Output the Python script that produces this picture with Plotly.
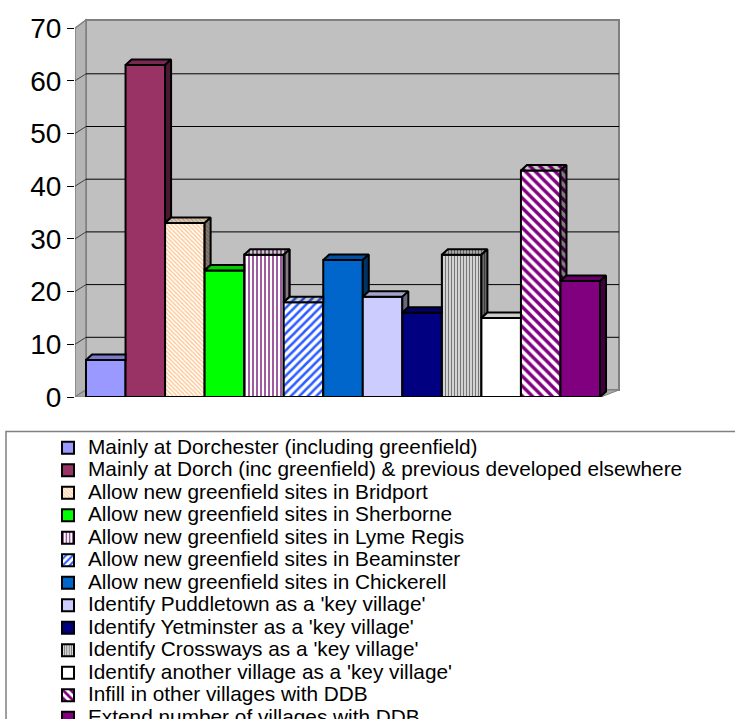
import plotly.graph_objects as go

# ---------------- data ----------------
labels = [
    "Mainly at Dorchester (including greenfield)",
    "Mainly at Dorch (inc greenfield) & previous developed elsewhere",
    "Allow new greenfield sites in Bridport",
    "Allow new greenfield sites in Sherborne",
    "Allow new greenfield sites in Lyme Regis",
    "Allow new greenfield sites in Beaminster",
    "Allow new greenfield sites in Chickerell",
    "Identify Puddletown as a 'key village'",
    "Identify Yetminster as a 'key village'",
    "Identify Crossways as a 'key village'",
    "Identify another village as a 'key village'",
    "Infill in other villages with DDB",
    "Extend number of villages with DDB",
]
values = [7, 63, 33, 24, 27, 18, 26, 19, 16, 27, 15, 43, 22]
y_ticks = [0, 10, 20, 30, 40, 50, 60, 70]

# ---------------- styles ----------------
face_colors = ["#9999FF", "#993366", "#FFFFFF", "#00FF00", "#FFFFFF", "#FFFFFF",
               "#0066CC", "#CCCCFF", "#000080", "#FFFFFF", "#FFFFFF", "#FFFFFF", "#800080"]
# (shape, fgcolor, size, solidity) or None
patterns = [None, None, ("\\", "#FFC58E", 3, 0.45), None, ("|", "#660066", 4, 0.32),
            ("/", "#2E5CFF", 6, 0.42), None, None, None, ("|", "#777777", 3, 0.55),
            None, ("\\", "#800080", 7, 0.48), None]

FONT = "Liberation Sans, Arial, sans-serif"
LEGEND_TEXT_PX = 20.8

# ---------------- geometry (pixels) ----------------
W, H = 735, 719
PLOT_L, PLOT_R, PLOT_T, PLOT_B = 75, 622, 18, 397
BAR0_PX = 86          # left edge of first bar
BAR_W_PX = 39.54      # bar width in px
PX_PER_UNIT = 5.27    # px per value unit
BACK_RIGHT_PX = 619
BACK_TOP_PX = 20
WALL_DY_PX = 7        # depth of walls (vertical)
BAR_DX_PX, BAR_DY_PX = 6.0, 5.5  # depth of bars


def px2x(px):
    return (px - BAR0_PX) / BAR_W_PX


def py2y(py):
    return (PLOT_B - py) / PX_PER_UNIT


x_range = [px2x(PLOT_L), px2x(PLOT_R)]
y_range = [0, py2y(PLOT_T)]
dxb = BAR_DX_PX / BAR_W_PX
dyb = BAR_DY_PX / PX_PER_UNIT
wall_dy = WALL_DY_PX / PX_PER_UNIT
back_x1 = px2x(BACK_RIGHT_PX)
back_y1 = py2y(BACK_TOP_PX)
floor_front_x1 = len(values) + 0.02
left_x = x_range[0]


def darken(hex_color, f):
    h = hex_color.lstrip("#")
    r, g, b = (int(h[i:i + 2], 16) for i in (0, 2, 4))
    return "#%02X%02X%02X" % (int(r * f), int(g * f), int(b * f))


fig = go.Figure()

# front faces (real bars, also used for legend)
for i, (lab, v) in enumerate(zip(labels, values)):
    pat = patterns[i]
    marker = dict(color=face_colors[i], line=dict(color="black", width=2))
    if pat:
        marker["pattern"] = dict(shape=pat[0], fgcolor=pat[1], bgcolor=face_colors[i],
                                 size=pat[2], solidity=pat[3], fgopacity=1, fillmode="replace")
    fig.add_trace(go.Bar(
        x=[i + 0.5], y=[v], width=1, marker=marker,
        name="<span style='font-size:%.1fpx'>%s</span>" % (LEGEND_TEXT_PX, lab),
        showlegend=True, hoverinfo="skip",
    ))

# 3D top and side faces
for i, v in enumerate(values):
    x0, x1 = i, i + 1
    nv = values[i + 1] if i + 1 < len(values) else 0
    pat = patterns[i]
    for kind, f in (("top", 0.8), ("side", 0.5)):
        if kind == "top":
            if nv > v:
                xs = [x0, x0 + dxb, x1, x1, x0]
                ys = [v, v + dyb, v + dyb, v, v]
            else:
                xs = [x0, x0 + dxb, x1 + dxb, x1, x0]
                ys = [v, v + dyb, v + dyb, v, v]
        else:
            if nv >= v:
                continue
            xs = [x1, x1, x1 + dxb, x1 + dxb, x1]
            ys = [nv, v, v + dyb, nv + dyb, nv]
        col = darken(face_colors[i], f)
        kw = dict(fillcolor=col)
        if pat:
            kw["fillpattern"] = dict(shape=pat[0], fgcolor=darken(pat[1], f), bgcolor=col,
                                     size=pat[2], solidity=pat[3], fgopacity=1)
        fig.add_trace(go.Scatter(
            x=xs, y=ys, mode="lines", fill="toself",
            line=dict(color="black", width=2), showlegend=False, hoverinfo="skip", **kw
        ))

shapes = []
# back wall
shapes.append(dict(type="rect", xref="x", yref="y", x0=0, x1=back_x1, y0=wall_dy, y1=back_y1,
                   fillcolor="#C0C0C0", line=dict(color="#808080", width=2), layer="below"))
# left wall
shapes.append(dict(type="path", xref="x", yref="y",
                   path="M %f,%f L %f,%f L %f,%f L %f,%f Z" % (left_x, 0, left_x, 70, 0, back_y1, 0, wall_dy),
                   fillcolor="#B4B4B4", line=dict(color="#808080", width=1.5), layer="below"))
# floor
shapes.append(dict(type="path", xref="x", yref="y",
                   path="M %f,%f L %f,%f L %f,%f L %f,%f Z" % (left_x, 0, floor_front_x1, 0, back_x1, wall_dy, 0, wall_dy),
                   fillcolor="#A8A8A8", line=dict(color="#808080", width=1), layer="below"))
# gridlines
for t in y_ticks[1:-1]:
    shapes.append(dict(type="line", xref="x", yref="y", x0=0, x1=back_x1, y0=t + wall_dy, y1=t + wall_dy,
                       line=dict(color="black", width=1), layer="below"))
    shapes.append(dict(type="line", xref="x", yref="y", x0=left_x, x1=0, y0=t, y1=t + wall_dy,
                       line=dict(color="#404040", width=1), layer="below"))


# legend frame
def pxp(px):
    return (px - PLOT_L) / (PLOT_R - PLOT_L)


def pyp(py):
    return (PLOT_B - py) / (PLOT_B - PLOT_T)


shapes.append(dict(type="rect", xref="paper", yref="paper", x0=pxp(6), x1=pxp(780), y0=pyp(431.5), y1=pyp(780),
                   fillcolor="rgba(0,0,0,0)", line=dict(color="#808080", width=1.5), layer="above"))

fig.update_layout(
    width=W, height=H,
    margin=dict(l=PLOT_L, r=W - PLOT_R, t=PLOT_T, b=H - PLOT_B, autoexpand=False),
    paper_bgcolor="white", plot_bgcolor="white",
    barmode="overlay",
    shapes=shapes,
    showlegend=True,
    legend=dict(x=pxp(48), y=pyp(431.5), xanchor="left", yanchor="top",
                font=dict(family=FONT, size=15, color="black"),
                bgcolor="rgba(0,0,0,0)", borderwidth=0, traceorder="normal"),
    xaxis=dict(range=x_range, visible=False, fixedrange=True),
    yaxis=dict(range=y_range, tickvals=y_ticks, ticktext=[str(t) for t in y_ticks],
               showgrid=False, zeroline=False, showline=False,
               ticks="outside", ticklen=7, tickcolor="black", tickwidth=1,
               tickfont=dict(family=FONT, size=28, color="black"), fixedrange=True),
)

fig.write_html("out.html")
